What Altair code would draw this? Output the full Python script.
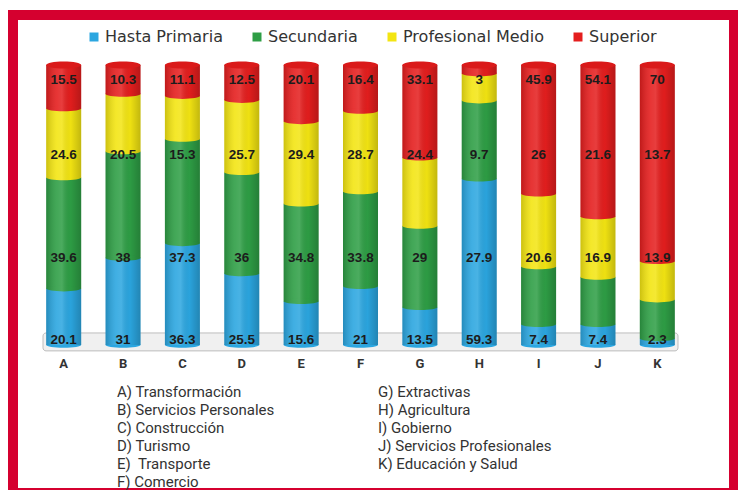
import altair as alt
import pandas as pd

categories = ["A", "B", "C", "D", "E", "F", "G", "H", "I", "J", "K"]
series = ["Hasta Primaria", "Secundaria", "Profesional Medio", "Superior"]
hasta_primaria = [20.1, 31, 36.3, 25.5, 15.6, 21, 13.5, 59.3, 7.4, 7.4, 2.3]
secundaria = [39.6, 38, 37.3, 36, 34.8, 33.8, 29, 27.9, 20.6, 16.9, 13.9]
profesional_medio = [24.6, 20.5, 15.3, 25.7, 29.4, 28.7, 24.4, 9.7, 26, 21.6, 13.7]
superior = [15.5, 10.3, 11.1, 12.5, 20.1, 16.4, 33.1, 3, 45.9, 54.1, 70]

notes_left = ["A) Transformación", "B) Servicios Personales", "C) Construcción",
              "D) Turismo", "E)\u00a0 Transporte", "F) Comercio"]
notes_right = ["G) Extractivas", "H) Agricultura", "\u00a0I) Gobierno",
               "J) Servicios Profesionales", "K) Educación y Salud"]

# style constants
COLORS = ["#2BA6E0", "#2E9E45", "#F3E512", "#E41E1E"]
LABEL_ROW = {"Hasta Primaria": 0.018, "Secundaria": 0.31,
             "Profesional Medio": 0.68, "Superior": 0.946}
FRAME_RED = "#D5002F"
BAR_W = 35
ELLIPSE = "M -1 0 A 1 0.16 0 1 0 1 0 A 1 0.16 0 1 0 -1 0 Z"
CAP = "M -1 0 A 1 0.2 0 1 0 1 0 A 1 0.2 0 1 0 -1 0 Z"

rows = []
for si, (name, vals) in enumerate(zip(series, [hasta_primaria, secundaria, profesional_medio, superior])):
    for c, v in zip(categories, vals):
        rows.append({"cat": c, "series": name, "order": si, "value": v,
                     "label": f"{v:g}", "row": LABEL_ROW[name]})
df = pd.DataFrame(rows)
cats_df = pd.DataFrame({"cat": categories})

xscale = alt.Scale(domain=categories, paddingInner=0, paddingOuter=0)
yscale = alt.Scale(domain=[0, 1], nice=False, zero=False)
cscale = alt.Scale(domain=series, range=COLORS)

X = alt.X("cat:N", scale=xscale, sort=categories,
          axis=alt.Axis(title=None, labelAngle=0, domain=False, ticks=False,
                        labelPadding=12, labelFontSize=13, labelFontWeight="bold",
                        labelColor="#333333", labelFont="Roboto"))

base = alt.Chart(df).transform_stack(
    stack="value", groupby=["cat"], as_=["y0", "y1"], offset="normalize",
    sort=[alt.SortField("order", order="ascending")]
)

one = alt.Chart(pd.DataFrame({"k": [0]}))

frame = one.mark_rect(fill="transparent", stroke=FRAME_RED, strokeWidth=10).encode(
    x=alt.value(-21), x2=alt.value(700), y=alt.value(-50), y2=alt.value(428))

platform = one.mark_rect(fill="#f0f0f0", stroke="#bdbdbd", strokeWidth=1,
                         cornerRadius=3).encode(
    x=alt.value(9), x2=alt.value(644),
    y=alt.Y(datum=0.043, type="quantitative", scale=yscale, axis=None),
    y2=alt.Y2(datum=-0.021))

bars = base.mark_bar(size=BAR_W).encode(
    x=X,
    y=alt.Y("y0:Q", scale=yscale, axis=None),
    y2="y1:Q",
    color=alt.Color("series:N", scale=cscale, sort=series,
                    legend=alt.Legend(orient="none", legendX=52, legendY=-36,
                                      direction="horizontal", title=None,
                                      symbolType="square", symbolSize=81,
                                      symbolStrokeWidth=0,
                                      labelFontSize=16, labelFont="DejaVu Sans",
                                      labelColor="#333333", columnPadding=26,
                                      labelOffset=3)),
    order=alt.Order("order:Q"),
)

bulges = base.mark_point(shape=ELLIPSE, size=BAR_W * BAR_W, filled=True,
                         opacity=1, strokeWidth=0).encode(
    x=X,
    y=alt.Y("y0:Q", scale=yscale, axis=None),
    color=alt.Color("series:N", scale=cscale, sort=series),
    order=alt.Order("order:Q"),
)

shade = alt.Chart(cats_df).mark_bar(
    size=BAR_W,
    color=alt.Gradient(gradient="linear", x1=0, x2=1, y1=0, y2=0, stops=[
        alt.GradientStop(color="rgba(0,0,0,0.16)", offset=0),
        alt.GradientStop(color="rgba(255,255,255,0.10)", offset=0.3),
        alt.GradientStop(color="rgba(255,255,255,0.14)", offset=0.45),
        alt.GradientStop(color="rgba(0,0,0,0.02)", offset=0.7),
        alt.GradientStop(color="rgba(0,0,0,0.20)", offset=1),
    ])).encode(
    x=X,
    y=alt.Y(datum=0, type="quantitative", scale=yscale, axis=None),
    y2=alt.Y2(datum=1))

caps = alt.Chart(cats_df).mark_point(shape=CAP, size=BAR_W * BAR_W, filled=True,
                                     opacity=1, strokeWidth=0,
                                     color="#DA1A1A").encode(
    x=X,
    y=alt.Y(datum=1, type="quantitative", scale=yscale, axis=None))

labels = alt.Chart(df).mark_text(fontSize=13.5, fontWeight="bold", color="#1c1c1c",
                                 font="Liberation Sans", baseline="middle").encode(
    x=X,
    y=alt.Y("row:Q", scale=yscale, axis=None),
    text="label:N")

note_l = one.mark_text(align="left", baseline="top", fontSize=15, font="Roboto",
                       color="#333333", lineBreak="\n", lineHeight=18).encode(
    x=alt.value(83), y=alt.value(320), text=alt.value("\n".join(notes_left)))
note_r = one.mark_text(align="left", baseline="top", fontSize=15, font="Roboto",
                       color="#333333", lineBreak="\n", lineHeight=18).encode(
    x=alt.value(344), y=alt.value(320), text=alt.value("\n".join(notes_right)))

chart = alt.layer(frame, platform, bars, bulges, shade, caps, labels, note_l, note_r).properties(
    width=653, height=280,
    autosize=alt.AutoSizeParams(type="none"),
    padding={"left": 26, "top": 57, "right": 51, "bottom": 145},
    background="white",
).configure_view(stroke=None)

chart.save("out.html", embed_options={"renderer": "svg", "actions": False})
